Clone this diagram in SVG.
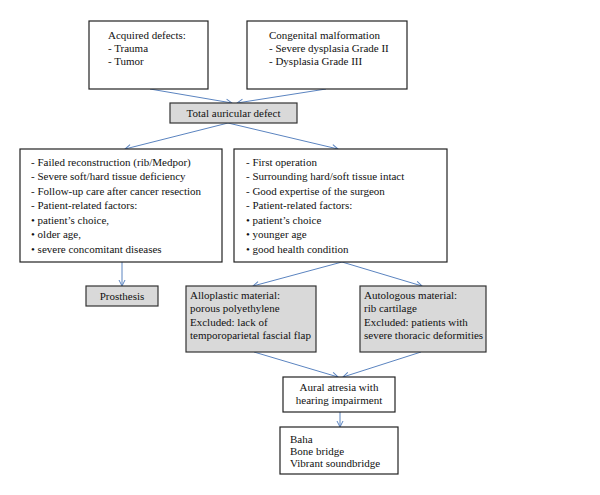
<svg xmlns="http://www.w3.org/2000/svg" width="600" height="495" viewBox="0 0 600 495">
<style>
.box{fill:#fff;stroke:#222;stroke-width:1.2}
.gbox{fill:#d9d9d9;stroke:#333;stroke-width:1.2}
text{font-family:"Liberation Serif","Times New Roman",serif;font-size:11px;fill:#111}
.c{text-anchor:middle}
.conn{stroke:#5b84c0;stroke-width:1;fill:none;marker-end:url(#ah)}
</style>
<defs>
<marker id="ah" markerWidth="8" markerHeight="8" refX="7" refY="4" orient="auto" markerUnits="userSpaceOnUse">
<path d="M1,1 L7,4 L1,7" fill="none" stroke="#5b84c0" stroke-width="1"/>
</marker>
</defs>
<rect width="600" height="495" fill="#fff"/>
<g id="connectors">
<line class="conn" x1="150" y1="89" x2="232" y2="103"/>
<line class="conn" x1="326" y1="89" x2="237" y2="103"/>
<line class="conn" x1="228" y1="123" x2="125" y2="149"/>
<line class="conn" x1="228" y1="123" x2="338" y2="149"/>
<line class="conn" x1="122" y1="262" x2="122" y2="286"/>
<line class="conn" x1="342" y1="262" x2="253" y2="286"/>
<line class="conn" x1="342" y1="262" x2="422" y2="286"/>
<line class="conn" x1="254" y1="352" x2="338" y2="377"/>
<line class="conn" x1="421" y1="352" x2="343" y2="377"/>
<line class="conn" x1="340" y1="412" x2="340" y2="427"/>
</g>
<g id="acquired">
<rect class="box" x="89" y="21" width="119" height="68"/>
<text x="108" y="39">Acquired defects:</text>
<text x="108" y="52">- Trauma</text>
<text x="108" y="65">- Tumor</text>
</g>
<g id="congenital">
<rect class="box" x="247" y="21" width="160" height="68"/>
<text x="269" y="39">Congenital malformation</text>
<text x="269" y="52">- Severe dysplasia Grade II</text>
<text x="269" y="65">- Dysplasia Grade III</text>
</g>
<g id="total">
<rect class="gbox" x="170" y="103" width="127" height="20"/>
<text class="c" x="233.5" y="117">Total auricular defect</text>
</g>
<g id="left">
<rect class="box" x="20" y="149" width="202" height="113"/>
<text x="31" y="166">- Failed reconstruction (rib/Medpor)</text>
<text x="31" y="180">- Severe soft/hard tissue deficiency</text>
<text x="31" y="195">- Follow-up care after cancer resection</text>
<text x="31" y="209">- Patient-related factors:</text>
<text x="31" y="224">• patient’s choice,</text>
<text x="31" y="238">• older age,</text>
<text x="31" y="253">• severe concomitant diseases</text>
</g>
<g id="right">
<rect class="box" x="234" y="149" width="213" height="113"/>
<text x="246" y="166">- First operation</text>
<text x="246" y="180">- Surrounding hard/soft tissue intact</text>
<text x="246" y="195">- Good expertise of the surgeon</text>
<text x="246" y="209">- Patient-related factors:</text>
<text x="246" y="224">• patient’s choice</text>
<text x="246" y="238">• younger age</text>
<text x="246" y="253">• good health condition</text>
</g>
<g id="prosthesis">
<rect class="gbox" x="86" y="286" width="72" height="20"/>
<text class="c" x="122" y="300">Prosthesis</text>
</g>
<g id="alloplastic">
<rect class="gbox" x="186" y="286" width="130" height="66"/>
<text x="190" y="299">Alloplastic material:</text>
<text x="190" y="312">porous polyethylene</text>
<text x="190" y="326">Excluded: lack of</text>
<text x="190" y="339">temporoparietal fascial flap</text>
</g>
<g id="autologous">
<rect class="gbox" x="360" y="286" width="126" height="66"/>
<text x="364" y="299">Autologous material:</text>
<text x="364" y="312">rib cartilage</text>
<text x="364" y="326">Excluded: patients with</text>
<text x="364" y="339">severe thoracic deformities</text>
</g>
<g id="aural">
<rect class="box" x="283" y="377" width="112" height="35"/>
<text class="c" x="339" y="391">Aural atresia with</text>
<text class="c" x="339" y="404">hearing impairment</text>
</g>
<g id="devices">
<rect class="box" x="280" y="427" width="118" height="47"/>
<text x="290" y="443">Baha</text>
<text x="290" y="455">Bone bridge</text>
<text x="290" y="467">Vibrant soundbridge</text>
</g>
</svg>
